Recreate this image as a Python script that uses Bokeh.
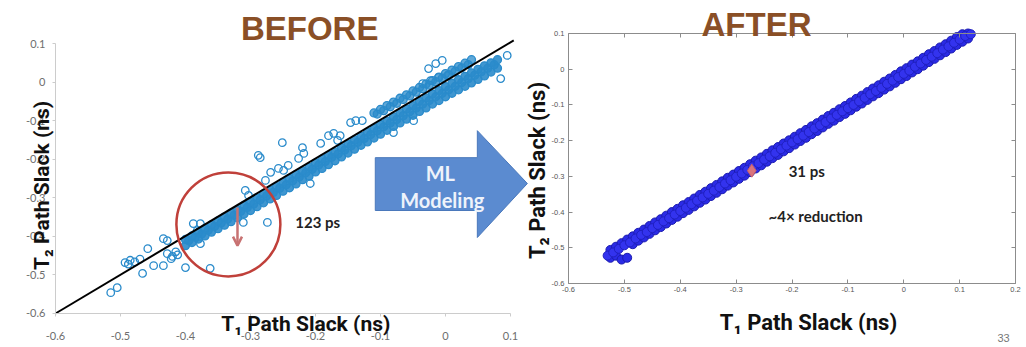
import numpy as np
from bokeh.plotting import figure
from bokeh.models import (Range1d, LinearAxis, FixedTicker, CustomJSTickFormatter,
                          Label, Arrow, OpenHead)
from bokeh.embed import file_html
from bokeh.resources import INLINE

# ---------------- BEFORE: T1 vs T2 path slack (ns) ----------------
before_band_x = [-0.40, -0.39, -0.38, -0.37, -0.36, -0.35, -0.34, -0.33, -0.32, -0.31,
                 -0.30, -0.29, -0.28, -0.27, -0.26, -0.25, -0.24, -0.23, -0.22, -0.21,
                 -0.20, -0.19, -0.18, -0.17, -0.16, -0.15, -0.14, -0.13, -0.12, -0.11,
                 -0.10, -0.09, -0.08, -0.07, -0.06, -0.05, -0.04, -0.03, -0.02, -0.01,
                 0.00, 0.01, 0.02, 0.03, 0.04, 0.05, 0.06, 0.07, 0.08]
before_band_lo = [-0.424, -0.416, -0.407, -0.399, -0.389, -0.380, -0.371, -0.362, -0.352, -0.342,
                  -0.333, -0.323, -0.313, -0.303, -0.294, -0.283, -0.274, -0.264, -0.253, -0.244,
                  -0.233, -0.224, -0.214, -0.204, -0.194, -0.184, -0.174, -0.164, -0.155, -0.145,
                  -0.135, -0.125, -0.115, -0.106, -0.096, -0.086, -0.076, -0.067, -0.057, -0.048,
                  -0.038, -0.029, -0.020, -0.011, -0.002, 0.007, 0.016, 0.026, 0.036]
before_band_hi = [-0.408, -0.399, -0.390, -0.380, -0.370, -0.360, -0.350, -0.340, -0.331, -0.320,
                  -0.310, -0.300, -0.290, -0.280, -0.271, -0.260, -0.250, -0.240, -0.230, -0.221,
                  -0.210, -0.200, -0.190, -0.181, -0.170, -0.160, -0.150, -0.141, -0.130, -0.120,
                  -0.110, -0.101, -0.090, -0.080, -0.070, -0.061, -0.050, -0.041, -0.031, -0.022,
                  -0.012, -0.003, 0.006, 0.015, 0.024, 0.033, 0.042, 0.050, 0.058]
before_band_x2 = [-0.395, -0.385, -0.375, -0.365, -0.355, -0.345, -0.335, -0.325, -0.315, -0.305,
                  -0.295, -0.285, -0.275, -0.265, -0.255, -0.245, -0.235, -0.225, -0.215, -0.205,
                  -0.195, -0.185, -0.175, -0.165, -0.155, -0.145, -0.135, -0.125, -0.115, -0.105,
                  -0.095, -0.085, -0.075, -0.065, -0.055, -0.045, -0.035, -0.025, -0.015, -0.005,
                  0.005, 0.015, 0.025, 0.035, 0.045, 0.055, 0.065, 0.075]
before_band_mid = [-0.411, -0.402, -0.394, -0.384, -0.374, -0.365, -0.355, -0.345, -0.335, -0.325,
                   -0.316, -0.305, -0.295, -0.286, -0.275, -0.266, -0.256, -0.246, -0.235, -0.226,
                   -0.215, -0.206, -0.195, -0.186, -0.176, -0.165, -0.156, -0.146, -0.136, -0.126,
                   -0.116, -0.106, -0.097, -0.087, -0.077, -0.067, -0.057, -0.048, -0.038, -0.029,
                   -0.020, -0.011, -0.001, 0.009, 0.018, 0.027, 0.036, 0.045]
before_upper_x = [-0.110, -0.100, -0.090, -0.080, -0.070, -0.060, -0.050, -0.040, -0.030, -0.020,
                  -0.010, 0.000, 0.010, 0.020, 0.030, 0.040,
                  -0.105, -0.095, -0.085, -0.075, -0.065, -0.055, -0.045, -0.035, -0.025, -0.015,
                  -0.005, 0.005, 0.015, 0.025, 0.035]
before_upper_y = [-0.080, -0.071, -0.061, -0.052, -0.042, -0.033, -0.023, -0.014, -0.005, 0.004,
                  0.013, 0.022, 0.031, 0.040, 0.049, 0.058,
                  -0.083, -0.074, -0.064, -0.055, -0.045, -0.036, -0.026, -0.017, -0.008, 0.001,
                  0.010, 0.019, 0.028, 0.037, 0.045]
before_out_x = [-0.515, -0.505, -0.493, -0.485, -0.478, -0.470, -0.488, -0.466, -0.449, -0.458,
                -0.434, -0.434, -0.428, -0.428, -0.420, -0.412, -0.422, -0.415, -0.400, -0.388,
                -0.377, -0.382, -0.362, -0.377, -0.308, -0.303, -0.274, -0.311, -0.251, -0.285,
                -0.257, -0.249, -0.242, -0.269, -0.277, -0.220, -0.218, -0.226, -0.192, -0.180,
                -0.172, -0.162, -0.166, -0.146, -0.138, -0.128, -0.208, -0.080, -0.288, -0.026,
                -0.015, -0.005, -0.035, -0.023, -0.011, 0.003, 0.095, 0.085, -0.049]
before_out_y = [-0.546, -0.533, -0.468, -0.462, -0.466, -0.459, -0.472, -0.496, -0.476, -0.432,
                -0.476, -0.406, -0.411, -0.445, -0.452, -0.448, -0.458, -0.440, -0.481, -0.367,
                -0.367, -0.385, -0.483, -0.419, -0.281, -0.294, -0.364, -0.364, -0.157, -0.196,
                -0.224, -0.229, -0.216, -0.234, -0.255, -0.170, -0.185, -0.198, -0.159, -0.139,
                -0.133, -0.139, -0.151, -0.105, -0.100, -0.100, -0.263, -0.131, -0.190, 0.035,
                0.048, 0.056, -0.004, 0.004, 0.012, 0.017, 0.069, 0.009, -0.100]
diag_x = [-0.6, 0.105]
diag_y = [-0.6, 0.108]
before_ticks = [-0.6, -0.5, -0.4, -0.3, -0.2, -0.1, 0.0, 0.1]
before_gap_center = (-0.334, -0.369)
before_gap = (-0.320, -0.325, -0.424)   # x, y top, y bottom of the 123 ps arrow

# ---------------- AFTER: model-predicted slack ----------------
after_x = [-0.53, -0.52, -0.51, -0.50, -0.49, -0.48, -0.47, -0.46, -0.45, -0.44,
           -0.43, -0.42, -0.41, -0.40, -0.39, -0.38, -0.37, -0.36, -0.35, -0.34,
           -0.33, -0.32, -0.31, -0.30, -0.29, -0.28, -0.27, -0.26, -0.25, -0.24,
           -0.23, -0.22, -0.21, -0.20, -0.19, -0.18, -0.17, -0.16, -0.15, -0.14,
           -0.13, -0.12, -0.11, -0.10, -0.09, -0.08, -0.07, -0.06, -0.05, -0.04,
           -0.03, -0.02, -0.01, 0.00, 0.01, 0.02, 0.03, 0.04, 0.05, 0.06,
           0.07, 0.08, 0.09, 0.10, 0.11, 0.12]
after_y_mid = [-0.522, -0.513, -0.503, -0.493, -0.485, -0.474, -0.464, -0.456, -0.445, -0.436,
               -0.426, -0.417, -0.407, -0.397, -0.388, -0.378, -0.368, -0.359, -0.349, -0.340,
               -0.330, -0.320, -0.311, -0.301, -0.292, -0.282, -0.272, -0.263, -0.253, -0.244,
               -0.234, -0.224, -0.214, -0.205, -0.196, -0.186, -0.176, -0.166, -0.157, -0.148,
               -0.138, -0.128, -0.118, -0.109, -0.100, -0.090, -0.080, -0.070, -0.061, -0.052,
               -0.041, -0.032, -0.022, -0.013, -0.004, 0.007, 0.016, 0.026, 0.035, 0.045,
               0.055, 0.064, 0.074, 0.083, 0.093, 0.098]
after_x_half = [-0.525, -0.515, -0.505, -0.495, -0.485, -0.475, -0.465, -0.455, -0.445, -0.435,
                -0.425, -0.415, -0.405, -0.395, -0.385, -0.375, -0.365, -0.355, -0.345, -0.335,
                -0.325, -0.315, -0.305, -0.295, -0.285, -0.275, -0.265, -0.255, -0.245, -0.235,
                -0.225, -0.215, -0.205, -0.195, -0.185, -0.175, -0.165, -0.155, -0.145, -0.135,
                -0.125, -0.115, -0.105, -0.095, -0.085, -0.075, -0.065, -0.055, -0.045, -0.035,
                -0.025, -0.015, -0.005, 0.005, 0.015, 0.025, 0.035, 0.045, 0.055, 0.065,
                0.075, 0.085, 0.095, 0.105, 0.115]
after_y_lo = [-0.528, -0.522, -0.533, -0.528, -0.490, -0.480, -0.471, -0.461, -0.451, -0.442,
              -0.432, -0.422, -0.413, -0.403, -0.394, -0.384, -0.374, -0.365, -0.355, -0.346,
              -0.336, -0.326, -0.317, -0.307, -0.298, -0.288, -0.278, -0.269, -0.259, -0.249,
              -0.240, -0.230, -0.221, -0.211, -0.201, -0.192, -0.182, -0.173, -0.163, -0.153,
              -0.144, -0.134, -0.125, -0.115, -0.105, -0.096, -0.086, -0.076, -0.067, -0.057,
              -0.048, -0.038, -0.028, -0.019, -0.009, 0.000, 0.010, 0.020, 0.029, 0.039,
              0.048, 0.058, 0.068, 0.077, 0.086]
after_y_hi = [-0.506, -0.497, -0.487, -0.477, -0.468, -0.458, -0.449, -0.439, -0.429, -0.420,
              -0.410, -0.400, -0.391, -0.381, -0.372, -0.362, -0.352, -0.343, -0.333, -0.324,
              -0.314, -0.304, -0.295, -0.285, -0.276, -0.266, -0.256, -0.247, -0.237, -0.227,
              -0.218, -0.208, -0.199, -0.189, -0.179, -0.170, -0.160, -0.151, -0.141, -0.131,
              -0.122, -0.112, -0.103, -0.093, -0.083, -0.074, -0.064, -0.054, -0.045, -0.035,
              -0.026, -0.016, -0.006, 0.003, 0.013, 0.022, 0.032, 0.042, 0.051, 0.061,
              0.070, 0.080, 0.090, 0.098, 0.100]
after_marker = (-0.272, -0.284)
after_ticks_x = [-0.6, -0.5, -0.4, -0.3, -0.2, -0.1, 0.0, 0.1, 0.2]
after_ticks_y = [-0.6, -0.5, -0.4, -0.3, -0.2, -0.1, 0.0, 0.1]

FMT_CODE = """
const s = tick.toFixed(1);
return (s === '0.0' || s === '-0.0') ? '0' : s;
"""
TITLE_FONT = "Liberation Sans"
AXIS_TITLE_FONT = "Roboto"
BROWN = "#8a4f26"
BEFORE_BLUE = "#2a8bcb"
R = dict(x_range_name="R", y_range_name="Ry")

# One canvas, two coordinate systems: the default ranges hold the BEFORE panel,
# the extra "R"/"Ry" ranges hold the AFTER panel.
p = figure(width=1024, height=345, output_backend="svg", toolbar_location=None,
           x_axis_location=None, y_axis_location=None,
           x_range=Range1d(-0.6846, 0.8908), y_range=Range1d(-0.6830, 0.2115),
           min_border_left=0, min_border_right=0, min_border_top=0, min_border_bottom=0)
p.extra_x_ranges = {"R": Range1d(-1.6166, 0.2161)}
p.extra_y_ranges = {"Ry": Range1d(-0.7736, 0.1924)}
p.outline_line_color = None
p.grid.visible = False

# ---------------- BEFORE axes ----------------
bx = LinearAxis(fixed_location=-0.6, bounds=(-0.6, 0.1))
by = LinearAxis(fixed_location=-0.6, bounds=(-0.6, 0.1))
p.add_layout(bx, "below")
p.add_layout(by, "left")
for ax in (bx, by):
    ax.ticker = FixedTicker(ticks=before_ticks)
    ax.formatter = CustomJSTickFormatter(code=FMT_CODE)
    ax.axis_line_color = "#cccccc"
    ax.major_tick_line_color = "#cccccc"
    ax.major_tick_out = 3
    ax.major_tick_in = 0
    ax.minor_tick_line_color = None
    ax.major_label_text_font = "Lato"
    ax.major_label_text_font_size = "11px"
    ax.major_label_text_color = "#6e6e6e"
bx.major_label_standoff = 16
by.major_label_standoff = 7

# ---------------- AFTER axes (boxed, ticks inward) ----------------
a_bottom = LinearAxis(fixed_location=-0.6, bounds=(-0.6, 0.2), **R)
a_top = LinearAxis(fixed_location=0.1, bounds=(-0.6, 0.2), **R)
a_left = LinearAxis(fixed_location=-0.6, bounds=(-0.6, 0.1), **R)
a_right = LinearAxis(fixed_location=0.2, bounds=(-0.6, 0.1), **R)
p.add_layout(a_bottom, "below")
p.add_layout(a_top, "above")
p.add_layout(a_left, "left")
p.add_layout(a_right, "right")
for ax in (a_bottom, a_top):
    ax.ticker = FixedTicker(ticks=after_ticks_x)
for ax in (a_left, a_right):
    ax.ticker = FixedTicker(ticks=after_ticks_y)
for ax in (a_bottom, a_top, a_left, a_right):
    ax.axis_line_color = "#8c8c8c"
    ax.major_tick_line_color = "#8c8c8c"
    ax.major_tick_in = 4
    ax.major_tick_out = 0
    ax.minor_tick_line_color = None
    ax.major_label_text_font = "Liberation Sans"
    ax.major_label_text_font_size = "7.5px"
    ax.major_label_text_color = "#555555"
a_bottom.formatter = CustomJSTickFormatter(code=FMT_CODE)
a_left.formatter = CustomJSTickFormatter(code=FMT_CODE)
a_top.formatter = CustomJSTickFormatter(code="return '';")
a_right.formatter = CustomJSTickFormatter(code="return '';")
a_bottom.major_label_standoff = 3
a_left.major_label_standoff = 4

# ---------------- BEFORE marks ----------------
p.scatter(before_band_x, before_band_lo, size=8, line_color=BEFORE_BLUE, line_width=1.3,
          fill_color=BEFORE_BLUE, fill_alpha=0.9)
p.scatter(before_band_x2, before_band_mid, size=8, line_color=BEFORE_BLUE, line_width=1.3,
          fill_color=BEFORE_BLUE, fill_alpha=0.9)
p.scatter(before_band_x, before_band_hi, size=8, line_color=BEFORE_BLUE, line_width=1.3,
          fill_color=BEFORE_BLUE, fill_alpha=0.9)
p.scatter(before_upper_x, before_upper_y, size=8, line_color=BEFORE_BLUE, line_width=1.3,
          fill_color=BEFORE_BLUE, fill_alpha=0.75)
p.scatter(before_out_x, before_out_y, size=7.5, line_color=BEFORE_BLUE, line_width=1.3,
          fill_color=None)
p.line(diag_x, diag_y, line_color="black", line_width=2)

p.scatter([before_gap_center[0]], [before_gap_center[1]], size=104, fill_color=None,
          line_color="#c0403a", line_width=2.5)
p.add_layout(Arrow(x_start=before_gap[0], y_start=before_gap[1], x_end=before_gap[0],
                   y_end=before_gap[2], line_color="#c87272", line_width=2.5,
                   end=OpenHead(size=9, line_color="#c87272", line_width=2.5)))
p.add_layout(Label(x=-0.231, y=-0.364, text="123 ps", text_font="Lato", text_font_style="bold",
                   text_font_size="15px", text_color="#222222", text_baseline="middle"))

# ML modeling arrow
arrow_xs = [-0.108, 0.049, 0.049, 0.126, 0.049, 0.049, -0.108]
arrow_ys = [-0.196, -0.196, -0.126, -0.263, -0.403, -0.333, -0.333]
p.patch(arrow_xs, arrow_ys, fill_color="#5b8bd0", line_color="#4a78bb", line_width=1)
p.add_layout(Label(x=-0.008, y=-0.237, text="ML", text_font="Lato", text_font_style="bold",
                   text_font_size="20px", text_color="#eef3fb", text_align="center",
                   text_baseline="middle"))
p.add_layout(Label(x=-0.005, y=-0.307, text="Modeling", text_font="Lato", text_font_style="bold",
                   text_font_size="20px", text_color="#eef3fb", text_align="center",
                   text_baseline="middle"))

p.add_layout(Label(x=-0.209, y=0.139, text="BEFORE", text_font=TITLE_FONT, text_font_style="bold",
                   text_font_size="33px", text_color=BROWN, text_align="center",
                   text_baseline="middle"))
p.add_layout(Label(x=-0.215, y=-0.6285, text="T\u2081 Path Slack (ns)", text_font=AXIS_TITLE_FONT,
                   text_font_style="bold", text_font_size="21px", text_color="#111111",
                   text_align="center", text_baseline="middle"))
p.add_layout(Label(x=-0.620, y=-0.268, text="T\u2082 Path Slack (ns)", text_font=AXIS_TITLE_FONT,
                   text_font_style="bold", text_font_size="21px", text_color="#111111",
                   text_align="center", text_baseline="middle", angle=np.pi / 2))

# ---------------- AFTER marks ----------------
p.scatter(after_x_half, after_y_lo, size=9, fill_color="#2b2be6", line_color="#1c1cb0",
          line_width=1, **R)
p.scatter(after_x_half, after_y_hi, size=9, fill_color="#2b2be6", line_color="#1c1cb0",
          line_width=1, **R)
p.scatter(after_x, after_y_mid, size=9, fill_color="#3333ee", line_color="#2020c0",
          line_width=1, **R)
p.scatter([after_marker[0]], [after_marker[1]], marker="diamond", size=13,
          fill_color="#d9747e", line_color="#c9606a", line_width=1, **R)

p.add_layout(Label(x=-0.206, y=-0.2836, text="31 ps", text_font="Lato", text_font_style="bold",
                   text_font_size="15px", text_color="#222222", text_baseline="middle", **R))
p.add_layout(Label(x=-0.242, y=-0.4096, text="~4\u00d7 reduction", text_font="Lato",
                   text_font_style="bold", text_font_size="15px", text_color="#222222",
                   text_baseline="middle", **R))
p.add_layout(Label(x=-0.2636, y=0.1252, text="AFTER", text_font=TITLE_FONT, text_font_style="bold",
                   text_font_size="33px", text_color=BROWN, text_align="center",
                   text_baseline="middle", **R))
p.add_layout(Label(x=-0.1705, y=-0.7092, text="T\u2081 Path Slack (ns)", text_font=AXIS_TITLE_FONT,
                   text_font_style="bold", text_font_size="22px", text_color="#111111",
                   text_align="center", text_baseline="middle", **R))
p.add_layout(Label(x=-0.6555, y=-0.2836, text="T\u2082 Path Slack (ns)", text_font=AXIS_TITLE_FONT,
                   text_font_style="bold", text_font_size="22px", text_color="#111111",
                   text_align="center", text_baseline="middle", angle=np.pi / 2, **R))
p.add_layout(Label(x=0.1677, y=-0.7400, text="33", text_font=TITLE_FONT,
                   text_font_size="11px", text_color="#777777", text_baseline="top", **R))

open("out.html", "w").write(file_html(p, INLINE))
